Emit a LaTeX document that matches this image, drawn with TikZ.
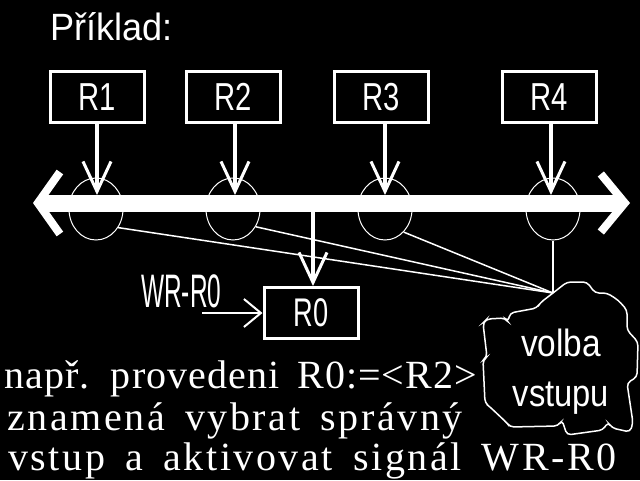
\documentclass[tikz,border=0pt]{standalone}
\usepackage{fontspec}
\setmainfont{Liberation Sans}
\newfontfamily\serfa[LetterSpace=2.7,WordSpace=1.6]{Liberation Serif}
\newfontfamily\serfb[LetterSpace=6.5,WordSpace=1.6]{Liberation Serif}
\usetikzlibrary{arrows.meta,shapes.geometric}
\newcommand{\nx}[2]{\scalebox{#1}[1]{#2}}
\begin{document}
\begin{tikzpicture}[x=1pt,y=-1pt,
  every node/.style={text=white,inner sep=0pt},
  reg/.style={draw=white,line width=3pt,minimum width=94pt,minimum height=51pt,font=\fontsize{39}{39}\selectfont},
  tap/.style={ellipse,draw=white,line width=1pt,minimum width=54pt,minimum height=62pt},
  feed/.style={draw=white,line width=4pt,-{Straight Barb[length=30pt,width=28pt,line width=3pt]}},
  sel/.style={draw=white,line width=1.5pt},
  busline/.style={draw=white,line width=17pt,{Straight Barb[length=22pt,width=62pt,line width=8pt]}-{Straight Barb[length=24pt,width=58pt,line width=8pt]}},
  wrarrow/.style={draw=white,line width=2pt,-{Straight Barb[length=17pt,width=28pt,line width=2pt]}},
  sertext/.style={anchor=base west,font=#1\fontsize{40}{40}\selectfont}]
\useasboundingbox (0,0) rectangle (640,480);
\fill[black] (0,0) rectangle (640,480);

\node[anchor=base west,font=\fontsize{38}{38}\selectfont] (title) at (50,40) {\nx{0.95}{Příklad:}};

\node[reg] (R1) at (97,97) {\nx{0.75}{R1}};
\node[reg] (R2) at (233,97) {\nx{0.75}{R2}};
\node[reg] (R3) at (381,97) {\nx{0.75}{R3}};
\node[reg] (R4) at (549,97) {\nx{0.75}{R4}};
\node[reg,font=\fontsize{40}{40}\selectfont] (R0) at (311,313) {\nx{0.68}{R0}};

\node[tap] (c1) at (96,209) {};
\node[tap] (c2) at (233,209) {};
\node[tap] (c3) at (385,209) {};
\node[tap] (c4) at (553,209) {};

\coordinate (bl) at (33,203);
\coordinate (br) at (630,203);
\draw[busline] (bl) -- (br);

\coordinate (b1) at (97,195);
\coordinate (b2) at (235,195);
\coordinate (b3) at (385,195);
\coordinate (b4) at (551,195);
\draw[feed] (R1.south -| b1) -- (b1);
\draw[feed] (R2.south -| b2) -- (b2);
\draw[feed] (R3.south -| b3) -- (b3);
\draw[feed] (R4.south -| b4) -- (b4);

\coordinate (r0in) at (313,212);
\draw[feed] (r0in) -- (R0.north -| r0in);

\coordinate (wr) at (202,313);
\draw[wrarrow] (wr) -- (R0.west);
\node[anchor=base west,font=\fontsize{47}{47}\selectfont] (wrl) at (141,307) {\nx{0.52}{WR-R0}};

\coordinate (cv) at (553,293);
\draw[sel] (c1.-40) -- (cv);
\draw[sel] (c2.-38) -- (cv);
\draw[sel] (c3.-51) -- (cv);
\draw[sel] (c4.south) -- (cv);

\draw[sel,rounded corners=4pt] (cv) -- (567,282) -- (587,282) -- (595,293) -- (607,293) -- (618,300) -- (627,310) -- (627,330) -- (638,342) -- (637,377) -- (627,383) -- (633,423) -- (630,432) -- (612,428) -- (608,422) -- (603,430) -- (567,435) -- (562,420) -- (558,426) -- (510,427) -- (507,423) -- (490,407) -- (485,403) -- (483,360) -- (487,357) -- (483,323) -- (487,319) -- (505,318) -- (508,322) -- (510,313) -- (537,308) -- (540,303) -- cycle;
\node[align=center,font=\fontsize{38}{50}\selectfont] (cloud) at (561,372) {\nx{0.88}{volba}\\\nx{0.86}{vstupu}};

\node[sertext=\serfa] (t1) at (4,388) {např. provedeni R0:=<R2>};
\node[sertext=\serfb] (t2) at (7,430) {znamená vybrat správný};
\node[sertext=\serfb] (t3) at (8,470) {vstup a aktivovat signál WR-R0};
\end{tikzpicture}
\end{document}
